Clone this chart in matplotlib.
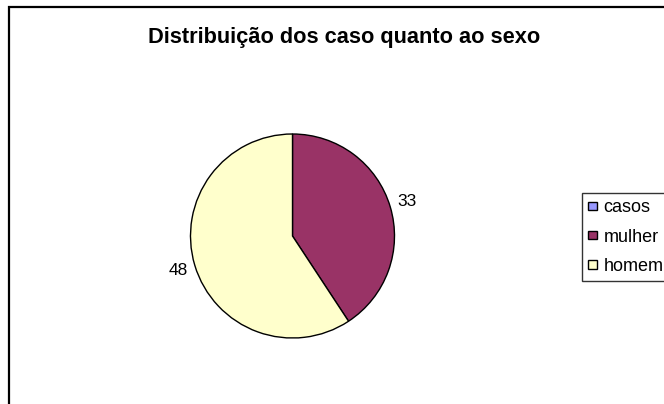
import matplotlib
matplotlib.use("Agg")
import matplotlib.pyplot as plt
from matplotlib.lines import Line2D

categories = ["casos", "mulher", "homem"]
values = [0, 33, 48]
colors = ["#9999FF", "#993366", "#FFFFCC"]
title = "Distribuição dos caso quanto ao sexo"

plt.rcParams['font.family'] = ['Liberation Sans', 'DejaVu Sans']

W, H = 664, 404
fig = plt.figure(figsize=(W / 100, H / 100), dpi=100)
fig.patch.set_facecolor("white")

# chart frame (cut at right and bottom)
fx = 8.5 / W
fy = 1 - 6.5 / H
fig.add_artist(Line2D([fx, fx, 1.01], [-0.01, fy, fy], transform=fig.transFigure,
                      color="black", lw=1.6, solid_joinstyle="miter"))

# pie axes: center (292.5, 236) px, radius 102 px
R = 102
cx, cy = 292.5, 236
half = 1.25 * R
ax = fig.add_axes([(cx - half) / W, (H - cy - half) / H, 2 * half / W, 2 * half / H])
labels = [str(v) if v else "" for v in values]
wedges, texts = ax.pie(values, labels=labels, colors=colors, startangle=90,
                       counterclock=False, labeldistance=1.17,
                       wedgeprops=dict(edgecolor="black", linewidth=1.0),
                       textprops=dict(fontsize=12.5))
for t in texts:
    t.set_ha("center")
    t.set_va("center")
ax.set_xlim(-1.25, 1.25)
ax.set_ylim(-1.25, 1.25)
ax.set_aspect("equal")

fig.text(344 / W, 1 - 38 / H, title, ha="center", va="center",
         fontsize=15.7, fontweight="bold")

leg = fig.legend(wedges, categories, loc="upper left",
                 bbox_to_anchor=(581.5 / W, 1 - 193 / H), bbox_transform=fig.transFigure,
                 frameon=True, fancybox=False, fontsize=13, handlelength=0.5,
                 handleheight=0.34, handletextpad=0.38, labelspacing=0.68,
                 borderpad=0.35, borderaxespad=0)
leg.get_frame().set_edgecolor("black")
leg.get_frame().set_linewidth(1.0)
for h in leg.legend_handles:
    h.set_edgecolor("black")
    h.set_linewidth(1.0)

fig.savefig("out.png", dpi=100, facecolor="white")
